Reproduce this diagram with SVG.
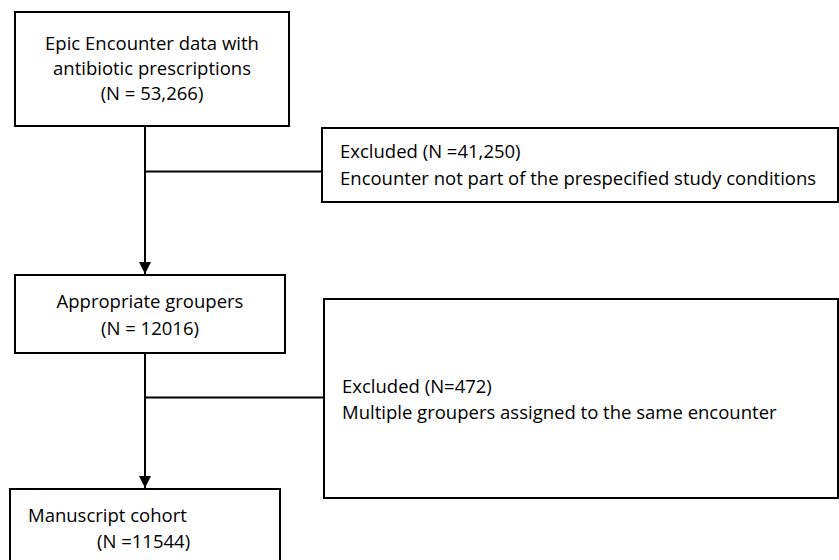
<svg xmlns="http://www.w3.org/2000/svg" width="839" height="560" viewBox="0 0 839 560">
<style>
.box{fill:#fff;stroke:#000;stroke-width:2}
.t{font-family:"Open Sans","Liberation Sans",Arial,sans-serif;font-size:18.5px;fill:#000}
.c{text-anchor:middle}
.ln{stroke:#000;stroke-width:2;fill:none}
</style>
<defs>
<marker id="ah" markerWidth="12" markerHeight="12" refX="12" refY="6" orient="auto" markerUnits="userSpaceOnUse">
<path d="M0,0 L12,6 L0,12 Z" fill="#000"/>
</marker>
</defs>
<rect width="839" height="560" fill="#fff"/>
<g id="connectors">
<line class="ln" x1="145" y1="126" x2="145" y2="274" marker-end="url(#ah)"/>
<line class="ln" x1="145" y1="171.5" x2="322" y2="171.5"/>
<line class="ln" x1="145" y1="353" x2="145" y2="488" marker-end="url(#ah)"/>
<line class="ln" x1="145" y1="397.5" x2="324" y2="397.5"/>
</g>
<g id="n1">
<rect class="box" x="15" y="12" width="274" height="114"/>
<text class="t c" x="152" y="50">Epic Encounter data with</text>
<text class="t c" x="152" y="75">antibiotic prescriptions</text>
<text class="t c" x="152" y="100">(N = 53,266)</text>
</g>
<g id="n2">
<rect class="box" x="322" y="128" width="516" height="74"/>
<text class="t" x="340" y="158">Excluded (N =41,250)</text>
<text class="t" x="340" y="185">Encounter not part of the prespecified study conditions</text>
</g>
<g id="n3">
<rect class="box" x="15" y="275" width="270" height="78"/>
<text class="t c" x="150" y="308">Appropriate groupers</text>
<text class="t c" x="150" y="335">(N = 12016)</text>
</g>
<g id="n4">
<rect class="box" x="324" y="299" width="514" height="199"/>
<text class="t" x="342" y="393">Excluded (N=472)</text>
<text class="t" x="342" y="419">Multiple groupers assigned to the same encounter</text>
</g>
<g id="n5">
<rect class="box" x="10" y="489" width="270" height="80"/>
<text class="t" x="28" y="522">Manuscript cohort</text>
<text class="t" x="97" y="548">(N =11544)</text>
</g>
</svg>
